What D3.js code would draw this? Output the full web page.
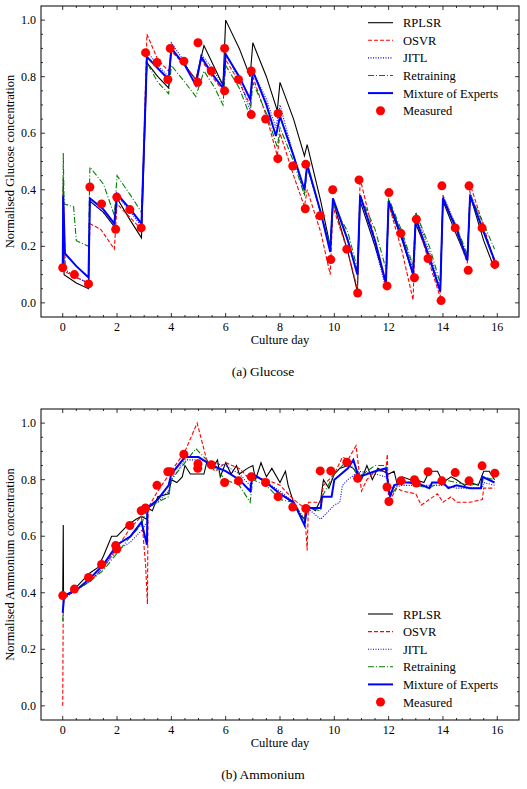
<!DOCTYPE html>
<html><head><meta charset="utf-8">
<script src="https://cdn.jsdelivr.net/npm/d3@7"></script>
<style>body{margin:0;background:#fff}text{font-family:"Liberation Serif","DejaVu Serif",serif}</style>
</head><body><svg id="c" width="527" height="789"></svg>
<script>
// ---------- Glucose ----------
const gluRPLSR=[[0,0.12],[0.02,0.44],[0.05,0.10],[0.5,0.07],[0.95,0.05],[1.0,0.36],[1.5,0.32],[1.9,0.27],[2.0,0.37],[2.5,0.29],[2.9,0.23],[3.1,0.85],[3.5,0.80],[3.9,0.76],[4.0,0.90],[4.5,0.84],[4.9,0.79],[5.2,0.91],[5.6,0.83],[5.9,0.77],[6.0,1.0],[6.5,0.90],[6.9,0.80],[7.0,0.92],[7.5,0.80],[7.9,0.68],[8.0,0.78],[8.5,0.65],[8.9,0.52],[9.0,0.56],[9.5,0.36],[9.85,0.2],[9.95,0.36],[10.5,0.18],[10.85,0.04],[10.95,0.36],[11.5,0.20],[11.9,0.07],[12.0,0.35],[12.5,0.22],[12.9,0.10],[13.0,0.28],[13.5,0.16],[13.9,0.04],[14.0,0.36],[14.5,0.24],[14.9,0.15],[15.0,0.38],[15.5,0.22],[15.9,0.12]];
const gluOSVR=[[0,0.12],[0.02,0.40],[0.1,0.11],[0.5,0.09],[0.95,0.07],[1.0,0.28],[1.4,0.26],[1.9,0.19],[2.0,0.35],[2.5,0.30],[2.9,0.26],[3.1,0.95],[3.5,0.86],[3.9,0.82],[4.0,0.89],[4.5,0.84],[4.9,0.79],[5.1,0.86],[5.5,0.80],[5.9,0.75],[6.0,0.86],[6.5,0.78],[6.9,0.70],[7.0,0.80],[7.5,0.66],[7.9,0.52],[8.0,0.60],[8.5,0.45],[8.9,0.34],[9.0,0.40],[9.5,0.25],[9.85,0.10],[9.95,0.34],[10.5,0.18],[10.85,0.05],[10.95,0.44],[11.5,0.22],[11.9,0.06],[12.0,0.35],[12.5,0.18],[12.9,0.01],[13.0,0.30],[13.5,0.14],[13.9,0.02],[14.0,0.38],[14.5,0.25],[14.9,0.14],[15.0,0.42],[15.5,0.27],[15.9,0.14]];
const gluJITL=[[0,0.12],[0.02,0.37],[0.05,0.12],[0.5,0.09],[0.95,0.07],[1.0,0.36],[1.5,0.32],[1.9,0.27],[2.0,0.38],[2.5,0.32],[2.9,0.27],[3.1,0.89],[3.5,0.84],[3.9,0.80],[4.0,0.92],[4.5,0.85],[4.9,0.77],[5.1,0.88],[5.5,0.83],[5.9,0.77],[6.0,0.88],[6.5,0.79],[6.9,0.68],[7.0,0.82],[7.5,0.72],[7.85,0.62],[8.0,0.70],[8.5,0.52],[8.9,0.38],[9.0,0.48],[9.5,0.32],[9.85,0.19],[9.95,0.36],[10.5,0.22],[10.85,0.10],[10.95,0.38],[11.5,0.20],[11.9,0.05],[12.0,0.36],[12.5,0.24],[12.9,0.12],[13.0,0.32],[13.5,0.18],[13.9,0.05],[14.0,0.38],[14.5,0.27],[14.9,0.16],[15.0,0.39],[15.5,0.26],[15.9,0.15]];
const gluRetrain=[[0,0.12],[0.02,0.53],[0.05,0.35],[0.4,0.34],[0.5,0.22],[0.95,0.20],[1.0,0.48],[1.5,0.42],[1.9,0.31],[2.0,0.45],[2.5,0.38],[2.9,0.32],[3.1,0.85],[3.5,0.78],[3.9,0.74],[4.0,0.84],[4.5,0.78],[4.9,0.73],[5.2,0.82],[5.6,0.76],[5.9,0.70],[6.0,0.84],[6.5,0.76],[6.9,0.66],[7.0,0.78],[7.5,0.67],[7.9,0.55],[8.0,0.62],[8.5,0.50],[8.9,0.38],[9.0,0.48],[9.5,0.32],[9.85,0.20],[9.95,0.35],[10.5,0.25],[10.85,0.12],[10.95,0.38],[11.5,0.26],[11.9,0.12],[12.0,0.37],[12.5,0.25],[12.9,0.13],[13.0,0.32],[13.5,0.20],[13.9,0.07],[14.0,0.36],[14.5,0.27],[14.9,0.17],[15.0,0.38],[15.5,0.28],[15.9,0.19]];
const gluMoE=[[0,0.12],[0.02,0.38],[0.08,0.175],[0.5,0.13],[0.95,0.09],[1.0,0.37],[1.5,0.33],[1.9,0.28],[2.0,0.385],[2.5,0.33],[2.9,0.28],[3.1,0.87],[3.5,0.83],[3.9,0.79],[4.0,0.90],[4.5,0.84],[4.9,0.77],[5.1,0.87],[5.5,0.81],[5.9,0.76],[6.0,0.88],[6.5,0.80],[6.9,0.72],[7.0,0.82],[7.5,0.70],[7.85,0.59],[8.0,0.66],[8.5,0.52],[8.9,0.40],[9.0,0.49],[9.5,0.32],[9.85,0.18],[9.95,0.37],[10.5,0.22],[10.85,0.10],[10.95,0.38],[11.5,0.22],[11.9,0.07],[12.0,0.36],[12.5,0.23],[12.9,0.10],[13.0,0.30],[13.5,0.16],[13.9,0.04],[14.0,0.37],[14.5,0.26],[14.9,0.15],[15.0,0.38],[15.5,0.25],[15.9,0.15]];
const gluMeasured=[[0,0.124],[0.43,0.10],[0.95,0.067],[1.0,0.41],[1.43,0.35],[1.95,0.26],[1.99,0.374],[2.47,0.33],[2.89,0.265],[3.05,0.885],[3.47,0.85],[3.87,0.79],[3.96,0.90],[4.46,0.855],[4.98,0.92],[4.97,0.78],[5.47,0.82],[5.96,0.90],[5.96,0.75],[6.47,0.79],[6.94,0.82],[6.94,0.666],[7.47,0.65],[7.93,0.67],[7.92,0.51],[8.47,0.484],[8.95,0.49],[8.93,0.333],[9.48,0.308],[9.94,0.40],[9.87,0.153],[10.46,0.19],[10.91,0.435],[10.86,0.035],[11.94,0.06],[12.01,0.39],[12.45,0.246],[13.02,0.296],[12.95,0.089],[13.45,0.157],[13.96,0.414],[13.93,0.008],[14.45,0.265],[14.96,0.414],[14.93,0.115],[15.44,0.265],[15.91,0.136]];
// ---------- Ammonium ----------
const ammRPLSR=[[0,0.39],[0.02,0.64],[0.03,0.38],[0.5,0.42],[1.0,0.47],[1.3,0.49],[1.5,0.53],[1.8,0.60],[2.0,0.60],[2.2,0.62],[2.4,0.64],[2.7,0.66],[2.9,0.67],[3.1,0.66],[3.12,0.70],[3.3,0.69],[3.5,0.74],[3.9,0.75],[4.0,0.80],[4.2,0.79],[4.4,0.81],[4.5,0.85],[4.7,0.82],[4.9,0.82],[5.2,0.82],[5.3,0.86],[5.5,0.84],[5.7,0.87],[5.8,0.81],[6.0,0.86],[6.2,0.82],[6.4,0.85],[6.5,0.82],[6.8,0.84],[7.0,0.85],[7.1,0.80],[7.3,0.86],[7.5,0.81],[7.7,0.84],[8.0,0.79],[8.2,0.83],[8.3,0.78],[8.5,0.72],[8.7,0.68],[8.9,0.66],[9.0,0.71],[9.3,0.69],[9.5,0.73],[9.6,0.80],[9.8,0.77],[10.0,0.82],[10.2,0.84],[10.5,0.85],[10.7,0.84],[11.0,0.80],[11.2,0.85],[11.4,0.80],[11.6,0.84],[12.0,0.82],[12.2,0.83],[12.3,0.79],[12.5,0.81],[12.8,0.80],[13.0,0.80],[13.3,0.79],[13.5,0.83],[13.8,0.83],[14.0,0.79],[14.3,0.81],[14.5,0.80],[14.8,0.78],[15.0,0.79],[15.3,0.78],[15.5,0.83],[15.7,0.83],[15.9,0.80]];
const ammOSVR=[[0,0.0],[0.02,0.38],[0.5,0.41],[1.0,0.44],[1.5,0.49],[2.0,0.56],[2.5,0.63],[2.9,0.67],[3.05,0.50],[3.12,0.36],[3.14,0.70],[3.5,0.76],[4.0,0.83],[4.5,0.90],[4.95,1.0],[5.3,0.87],[5.6,0.83],[6.0,0.86],[6.5,0.84],[6.9,0.80],[7.0,0.81],[7.5,0.80],[8.0,0.78],[8.5,0.73],[8.9,0.70],[9.0,0.55],[9.05,0.72],[9.5,0.72],[9.6,0.78],[10.0,0.82],[10.3,0.88],[10.5,0.87],[10.8,0.92],[11.0,0.76],[11.2,0.80],[11.5,0.83],[11.9,0.83],[11.95,0.89],[12.0,0.72],[12.3,0.77],[12.5,0.76],[13.0,0.75],[13.2,0.71],[13.5,0.73],[13.8,0.75],[14.0,0.72],[14.3,0.74],[14.5,0.72],[15.0,0.72],[15.45,0.73],[15.5,0.77],[15.9,0.77]];
const ammJITL=[[0,0.33],[0.05,0.38],[0.5,0.41],[1.0,0.44],[1.5,0.49],[2.0,0.55],[2.5,0.58],[2.9,0.62],[3.1,0.65],[3.12,0.70],[3.5,0.72],[3.9,0.76],[4.0,0.80],[4.5,0.87],[5.0,0.87],[5.5,0.86],[6.0,0.85],[6.5,0.82],[6.9,0.78],[7.0,0.82],[7.5,0.79],[8.0,0.76],[8.5,0.72],[8.9,0.66],[9.0,0.70],[9.5,0.66],[9.7,0.68],[10.0,0.71],[10.2,0.72],[10.3,0.78],[10.5,0.80],[10.9,0.83],[11.5,0.82],[11.9,0.81],[12.05,0.77],[12.5,0.78],[13.0,0.78],[13.5,0.78],[14.0,0.78],[14.5,0.77],[15.0,0.77],[15.45,0.77],[15.5,0.79],[15.9,0.78]];
const ammRetrain=[[0,0.30],[0.05,0.39],[0.5,0.41],[1.0,0.44],[1.5,0.48],[2.0,0.54],[2.5,0.60],[2.9,0.64],[3.1,0.70],[3.5,0.72],[3.9,0.74],[4.0,0.80],[4.5,0.86],[4.9,0.91],[5.5,0.85],[6.0,0.80],[6.5,0.78],[6.9,0.72],[7.0,0.80],[7.5,0.78],[8.0,0.73],[8.5,0.72],[8.9,0.66],[9.0,0.70],[9.5,0.69],[9.55,0.74],[10.0,0.82],[10.5,0.87],[10.9,0.81],[11.5,0.85],[11.9,0.85],[12.05,0.74],[12.5,0.80],[13.0,0.78],[13.5,0.77],[14.0,0.80],[14.5,0.79],[15.0,0.78],[15.45,0.79],[15.5,0.81],[15.9,0.80]];
const ammMoE=[[0,0.33],[0.05,0.39],[0.5,0.41],[1.0,0.45],[1.5,0.50],[2.0,0.57],[2.5,0.60],[2.9,0.65],[3.1,0.57],[3.12,0.70],[3.5,0.73],[3.9,0.78],[4.0,0.82],[4.5,0.88],[5.0,0.88],[5.5,0.85],[6.0,0.83],[6.5,0.80],[6.9,0.76],[7.0,0.82],[7.5,0.79],[8.0,0.75],[8.5,0.72],[8.9,0.64],[9.0,0.70],[9.5,0.70],[9.55,0.74],[9.9,0.74],[10.0,0.80],[10.5,0.84],[10.7,0.87],[10.9,0.81],[11.5,0.83],[11.9,0.84],[12.05,0.74],[12.2,0.78],[12.5,0.79],[13.0,0.79],[13.5,0.77],[13.6,0.79],[14.0,0.79],[14.2,0.77],[14.5,0.78],[15.0,0.77],[15.4,0.77],[15.45,0.81],[15.9,0.79]];
const ammMeasured=[[0,0.39],[0.43,0.413],[0.95,0.454],[1.43,0.50],[1.95,0.567],[1.99,0.555],[2.47,0.638],[2.89,0.69],[3.05,0.70],[3.47,0.78],[3.87,0.828],[3.96,0.828],[4.46,0.89],[4.98,0.856],[4.97,0.84],[5.47,0.853],[5.96,0.79],[6.47,0.796],[6.94,0.81],[7.47,0.79],[7.93,0.74],[8.47,0.703],[8.95,0.698],[9.48,0.831],[9.87,0.831],[10.46,0.862],[10.86,0.805],[11.94,0.774],[12.01,0.723],[12.45,0.796],[12.95,0.80],[13.02,0.788],[13.45,0.828],[13.96,0.796],[14.45,0.825],[14.96,0.796],[15.44,0.849],[15.91,0.823]];
const xTicks=[0,2,4,6,8,10,12,14,16];
const yTicks=[0,0.2,0.4,0.6,0.8,1.0];
const seriesNames=["RPLSR","OSVR","JITL","Retraining","Mixture of Experts"];

const styles=[
 {c:"#000",w:1.1,d:null},
 {c:"#ff0000",w:1.1,d:"4,2"},
 {c:"#0000ff",w:1.1,d:"1,1.5"},
 {c:"#008000",w:1.1,d:"6,2,1,2"},
 {c:"#0000ff",w:2,d:null}];

const svg=d3.select("#c");
function panel(top,series,meas,ylab,cap,legY){
  const L=41,R=519,T=top,B=top+311;
  const x=d3.scaleLinear().domain([-0.8,16.8]).range([L,R]);
  const y=d3.scaleLinear().domain([-0.05,1.05]).range([B,T]);
  const g=svg.append("g");
  const line=d3.line().x(d=>x(d[0])).y(d=>y(d[1]));
  series.forEach((s,i)=>{
    g.append("path").attr("d",line(s)).attr("fill","none").attr("stroke",styles[i].c)
     .attr("stroke-width",styles[i].w).attr("stroke-dasharray",styles[i].d);
  });
  g.selectAll("circle.m").data(meas).enter().append("circle").attr("cx",d=>x(d[0])).attr("cy",d=>y(d[1])).attr("r",4.5).attr("fill","#ff0000");
  g.append("rect").attr("x",L).attr("y",T).attr("width",R-L).attr("height",B-T).attr("fill","none").attr("stroke","#000").attr("stroke-width",1);
  // ticks
  const ax=g.append("g").attr("stroke","#000").attr("stroke-width",0.8);
  d3.range(0,16.01,0.5).forEach(v=>{const len=(v%2===0)?4:2;
    ax.append("line").attr("x1",x(v)).attr("x2",x(v)).attr("y1",B).attr("y2",B-len);
    ax.append("line").attr("x1",x(v)).attr("x2",x(v)).attr("y1",T).attr("y2",T+len);});
  d3.range(0,1.001,0.05).forEach(v=>{const len=(Math.round(v*100)%20===0)?4:2;
    ax.append("line").attr("y1",y(v)).attr("y2",y(v)).attr("x1",L).attr("x2",L+len);
    ax.append("line").attr("y1",y(v)).attr("y2",y(v)).attr("x1",R).attr("x2",R-len);});
  xTicks.forEach(v=>g.append("text").attr("x",x(v)).attr("y",B+14).attr("text-anchor","middle").attr("font-size",12).text(v));
  yTicks.forEach(v=>g.append("text").attr("x",L-5).attr("y",y(v)+4).attr("text-anchor","end").attr("font-size",12).text(v.toFixed(1)));
  g.append("text").attr("x",(L+R)/2).attr("y",B+27).attr("text-anchor","middle").attr("font-size",12.5).text("Culture day");
  g.append("text").attr("transform",`translate(14,${(T+B)/2}) rotate(-90)`).attr("text-anchor","middle").attr("font-size",12.5).text(ylab);
  g.append("text").attr("x",263).attr("y",B+59).attr("text-anchor","middle").attr("font-size",13.5).text(cap);
  // legend
  seriesNames.forEach((n,i)=>{const yy=legY+i*17.6;
    g.append("line").attr("x1",368).attr("x2",393).attr("y1",yy).attr("y2",yy).attr("stroke",styles[i].c).attr("stroke-width",styles[i].w).attr("stroke-dasharray",styles[i].d);
    g.append("text").attr("x",403).attr("y",yy+4.5).attr("font-size",12.5).text(n);});
  const my=legY+5*17.6;
  g.append("circle").attr("cx",380.5).attr("cy",my).attr("r",4.5).attr("fill","#ff0000");
  g.append("text").attr("x",403).attr("y",my+4.5).attr("font-size",12.5).text("Measured");
}
panel(6,[gluRPLSR,gluOSVR,gluJITL,gluRetrain,gluMoE],gluMeasured,"Normalised Glucose concentration","(a)  Glucose",22.7);
panel(409,[ammRPLSR,ammOSVR,ammJITL,ammRetrain,ammMoE],ammMeasured,"Normalised Ammonium concentration","(b)  Ammonium",614);
</script></body></html>
